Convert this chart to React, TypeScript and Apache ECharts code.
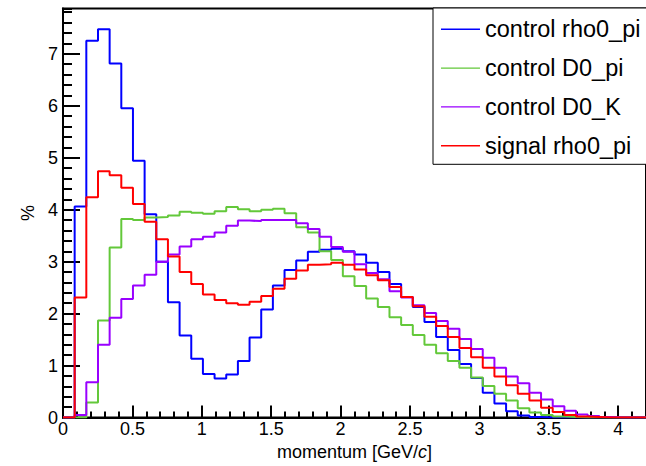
import React, { useEffect, useRef } from "react";
import * as echarts from "echarts";

// 50 bins from 0 to 4.2 GeV/c
const BIN_WIDTH = 0.084;
const X_MIN = 0;
const X_MAX = 4.2;
const Y_MIN = 0;
const Y_MAX = 7.87;

const seriesNames = ["control rho0_pi", "control D0_pi", "control D0_K", "signal rho0_pi"];
const seriesColors = ["#0000ff", "#63c83a", "#9900ff", "#ff0000"];

const controlRho0Pi = [
  0, 4.06, 7.25, 7.47, 6.81, 5.95, 4.94, 3.91, 3.0, 2.22,
  1.58, 1.13, 0.84, 0.75, 0.83, 1.09, 1.54, 2.08, 2.54, 2.84,
  3.02, 3.19, 3.23, 3.25, 3.2, 3.14, 2.98, 2.8, 2.57, 2.32,
  2.13, 1.84, 1.55, 1.3, 1.03, 0.76, 0.48, 0.27, 0.12, 0.04,
  0.01, 0, 0, 0, 0, 0, 0, 0, 0, 0,
];
const controlD0Pi = [
  0, 0, 0.29, 1.87, 3.27, 3.82, 3.8, 3.85, 3.86, 3.89,
  3.96, 3.94, 3.92, 3.97, 4.05, 4.01, 3.97, 4.0, 4.02, 3.93,
  3.66, 3.56, 3.2, 3.03, 2.72, 2.53, 2.29, 2.13, 1.93, 1.78,
  1.59, 1.4, 1.24, 1.09, 0.96, 0.77, 0.61, 0.46, 0.33, 0.18,
  0.1, 0.05, 0.02, 0.01, 0, 0, 0, 0, 0, 0,
];
const controlD0K = [
  0, 0.05, 0.68, 1.4, 1.92, 2.28, 2.54, 2.75, 3.0, 3.14,
  3.29, 3.43, 3.48, 3.56, 3.69, 3.79, 3.78, 3.8, 3.8, 3.8,
  3.74, 3.63, 3.48, 3.28, 3.19, 2.95, 2.78, 2.66, 2.43, 2.31,
  2.16, 2.01, 1.86, 1.71, 1.51, 1.32, 1.15, 0.96, 0.79, 0.66,
  0.48, 0.35, 0.22, 0.13, 0.06, 0.03, 0.01, 0, 0, 0,
];
const signalRho0Pi = [
  0, 2.31, 4.24, 4.74, 4.66, 4.42, 4.11, 3.77, 3.43, 3.1,
  2.8, 2.57, 2.37, 2.26, 2.2, 2.17, 2.23, 2.34, 2.48, 2.67,
  2.83, 2.94, 2.95, 2.98, 2.94, 2.85, 2.74, 2.64, 2.51, 2.32,
  2.14, 1.94, 1.76, 1.55, 1.34, 1.16, 0.96, 0.79, 0.62, 0.46,
  0.33, 0.19, 0.11, 0.05, 0.02, 0.01, 0, 0, 0, 0,
];

const seriesValues = [controlRho0Pi, controlD0Pi, controlD0K, signalRho0Pi];

const FONT = "'Liberation Sans', Arial, Helvetica, sans-serif";

// thin horizontal bar centred in a 39x25 box (degenerate corner points keep the box size)
const LEGEND_LINE_ICON =
  "path://M0,0h0.01v0.01h-0.01z M0,11.8h39v1.4h-39z M38.99,25h0.01v0.01h-0.01z";

function toSteps(values: number[]): number[][] {
  const pts = values.map((v, i) => [+(X_MIN + i * BIN_WIDTH).toFixed(4), v]);
  pts.push([+(X_MIN + values.length * BIN_WIDTH).toFixed(4), values[values.length - 1]]);
  return pts;
}

export default function App() {
  const ref = useRef<HTMLDivElement>(null);

  useEffect(() => {
    if (!ref.current) return;
    const chart = echarts.init(ref.current, undefined, { renderer: "svg" });
    chart.setOption({
      animation: false,
      backgroundColor: "#ffffff",
      textStyle: { fontFamily: FONT },
      grid: {
        left: 63,
        top: 8.5,
        width: 592,
        height: 417.5,
        show: true,
        borderColor: "#000",
        borderWidth: 2,
        backgroundColor: "transparent",
      },
      legend: {
        orient: "vertical",
        left: 433,
        top: 8,
        padding: [8.8, 24, 6.1, 8],
        itemWidth: 39,
        itemHeight: 25,
        itemGap: 13.8,
        icon: LEGEND_LINE_ICON,
        borderColor: "#000",
        borderWidth: 1,
        backgroundColor: "#fff",
        textStyle: { fontSize: 23.5, color: "#000", fontFamily: FONT, lineHeight: 25 },
        data: seriesNames,
      },
      xAxis: [
        {
          type: "value",
          min: X_MIN,
          max: X_MAX,
          interval: 0.5,
          position: "bottom",
          name: "momentum [GeV/{i|c}]",
          nameLocation: "middle",
          nameGap: 15,
          nameTextStyle: {
            fontSize: 18,
            color: "#000",
            fontFamily: FONT,
            verticalAlign: "top",
            rich: { i: { fontStyle: "italic", fontSize: 18, color: "#000", fontFamily: FONT } },
          },
          axisLine: { show: true, lineStyle: { color: "#000", width: 2 } },
          axisTick: { show: true, inside: true, length: 12, lineStyle: { color: "#000", width: 2 } },
          axisLabel: {
            show: true,
            fontSize: 18,
            lineHeight: 15,
            color: "#000",
            margin: 4,
            showMaxLabel: false,
            fontFamily: FONT,
          },
          splitLine: { show: false },
        },
        {
          type: "value",
          min: X_MIN,
          max: X_MAX,
          interval: 0.1,
          position: "bottom",
          offset: 0,
          axisLine: { show: false },
          axisTick: { show: true, inside: true, length: 6, lineStyle: { color: "#000", width: 2 } },
          axisLabel: { show: false },
          splitLine: { show: false },
        },
      ],
      yAxis: [
        {
          type: "value",
          min: Y_MIN,
          max: Y_MAX,
          interval: 1,
          position: "left",
          name: "%",
          nameLocation: "middle",
          nameRotate: 90,
          nameGap: 23,
          nameTextStyle: { fontSize: 18, color: "#000", fontFamily: FONT },
          axisLine: { show: true, lineStyle: { color: "#000", width: 2 } },
          axisTick: { show: true, inside: true, length: 17, lineStyle: { color: "#000", width: 2 } },
          axisLabel: {
            show: true,
            fontSize: 18,
            lineHeight: 15,
            color: "#000",
            margin: 5,
            showMaxLabel: false,
            fontFamily: FONT,
          },
          splitLine: { show: false },
        },
        {
          type: "value",
          min: Y_MIN,
          max: Y_MAX,
          interval: 0.2,
          position: "left",
          offset: 0,
          axisLine: { show: false },
          axisTick: { show: true, inside: true, length: 9, lineStyle: { color: "#000", width: 2 } },
          axisLabel: { show: false },
          splitLine: { show: false },
        },
      ],
      series: seriesNames.map((name, i) => ({
        name,
        type: "line",
        xAxisIndex: 0,
        yAxisIndex: 0,
        step: "end",
        symbol: "none",
        showSymbol: false,
        color: seriesColors[i],
        itemStyle: { color: seriesColors[i] },
        lineStyle: { color: seriesColors[i], width: 2 },
        data: toSteps(seriesValues[i]),
      })),
    });
    return () => chart.dispose();
  }, []);

  return (
    <div
      ref={ref}
      style={{ position: "fixed", left: 0, top: 0, width: 646, height: 466, background: "#fff" }}
    />
  );
}
